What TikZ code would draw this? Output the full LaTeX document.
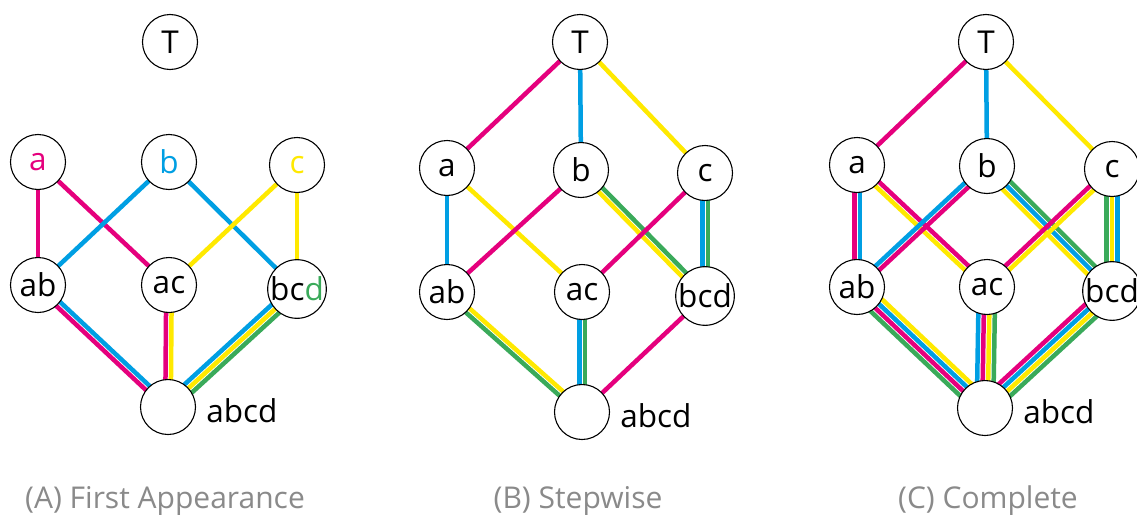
\documentclass[tikz,border=0pt]{standalone}
\usepackage{fontspec}
\setmainfont{Open Sans}
\usetikzlibrary{calc,backgrounds}
\definecolor{mag}{HTML}{E5007D}
\definecolor{cya}{HTML}{009FE3}
\definecolor{yel}{HTML}{FFE900}
\definecolor{grn}{HTML}{3AAA5A}
\definecolor{capgray}{HTML}{8A8A8A}
\newcommand\bundle[4]{%
  \foreach \col [count=\i] in {#4}{%
    \pgfmathsetmacro\off{(\i-(#3+1)/2)*5.5}%
    \draw[edge,draw=\col] ($(#1)!\off pt!90:(#2)$) -- ($(#2)!\off pt!-90:(#1)$);
  }}
\begin{document}
\begin{tikzpicture}[x=1pt,y=-1pt,
  vnode/.style={circle,draw=black,line width=1.1pt,fill=white,minimum size=55pt,inner sep=0pt,font=\fontsize{31.5}{36}\selectfont},
  lbl/.style={anchor=base west,inner sep=0pt,font=\fontsize{31.5}{36}\selectfont},
  captext/.style={anchor=base,inner sep=0pt,text=capgray,font=\fontsize{30}{34}\selectfont},
  edge/.style={line width=4.5pt}]
\useasboundingbox (0,0) rectangle (1137,514);
% Panel A
\node[vnode] (AT) at (170,42) {T};
\node[vnode,text=mag] (Aa) at (38,162) {a};
\node[vnode,text=cya] (Ab) at (169,162) {b};
\node[vnode,text=yel] (Ac) at (297,165) {c};
\node[vnode] (Aab) at (38,285) {ab};
\node[vnode] (Aac) at (169,285) {ac};
\node[vnode] (Abcd) at (297,289) {bc\textcolor{grn}{d}};
\node[vnode] (Aabcd) at (168,407) {};
\node[lbl] (Albl) at ($(Aabcd.east)+(10,15)$) {abcd};
\node[captext] (capA) at (165,508) {(A) First Appearance};
% Panel B
\node[vnode] (BT) at (580,42) {T};
\node[vnode] (Ba) at (447,168) {a};
\node[vnode] (Bb) at (581,170) {b};
\node[vnode] (Bc) at (705,173) {c};
\node[vnode] (Bab) at (447,292) {ab};
\node[vnode] (Bac) at (582,292) {ac};
\node[vnode] (Bbcd) at (705,296) {bcd};
\node[vnode] (Babcd) at (582,412) {};
\node[lbl] (Blbl) at ($(Babcd.east)+(10,15)$) {abcd};
\node[captext] (capB) at (578,508) {(B) Stepwise};
% Panel C
\node[vnode] (CT) at (986,42) {T};
\node[vnode] (Ca) at (857,165) {a};
\node[vnode] (Cb) at (987,166) {b};
\node[vnode] (Cc) at (1112,169) {c};
\node[vnode] (Cab) at (857,287) {ab};
\node[vnode] (Cac) at (987,287) {ac};
\node[vnode] (Cbcd) at (1112,291) {bcd};
\node[vnode] (Cabcd) at (985,408) {};
\node[lbl] (Clbl) at ($(Cabcd.east)+(10,15)$) {abcd};
\node[captext] (capC) at (988,508) {(C) Complete};
\begin{scope}[on background layer]
\fill[white] (0,0) rectangle (1137,514);
% A
\bundle{Aa}{Aab}{1}{mag}
\bundle{Aa}{Aac}{1}{mag}
\bundle{Ab}{Aab}{1}{cya}
\bundle{Ab}{Abcd}{1}{cya}
\bundle{Ac}{Aac}{1}{yel}
\bundle{Ac}{Abcd}{1}{yel}
\bundle{Aab}{Aabcd}{2}{mag,cya}
\bundle{Aac}{Aabcd}{2}{mag,yel}
\bundle{Abcd}{Aabcd}{3}{cya,yel,grn}
% B
\bundle{BT}{Ba}{1}{mag}
\bundle{BT}{Bb}{1}{cya}
\bundle{BT}{Bc}{1}{yel}
\bundle{Ba}{Bab}{1}{cya}
\bundle{Ba}{Bac}{1}{yel}
\bundle{Bb}{Bab}{1}{mag}
\bundle{Bb}{Bbcd}{2}{yel,grn}
\bundle{Bc}{Bac}{1}{mag}
\bundle{Bc}{Bbcd}{2}{cya,grn}
\bundle{Bab}{Babcd}{2}{grn,yel}
\bundle{Bac}{Babcd}{2}{cya,grn}
\bundle{Bbcd}{Babcd}{1}{mag}
% C
\bundle{CT}{Ca}{1}{mag}
\bundle{CT}{Cb}{1}{cya}
\bundle{CT}{Cc}{1}{yel}
\bundle{Ca}{Cab}{2}{mag,cya}
\bundle{Ca}{Cac}{2}{yel,mag}
\bundle{Cb}{Cab}{2}{cya,mag}
\bundle{Cb}{Cbcd}{3}{yel,cya,grn}
\bundle{Cc}{Cac}{2}{mag,yel}
\bundle{Cc}{Cbcd}{3}{grn,yel,cya}
\bundle{Cab}{Cabcd}{4}{grn,mag,cya,yel}
\bundle{Cac}{Cabcd}{4}{cya,mag,yel,grn}
\bundle{Cbcd}{Cabcd}{4}{mag,cya,yel,grn}
\end{scope}
\end{tikzpicture}
\end{document}
